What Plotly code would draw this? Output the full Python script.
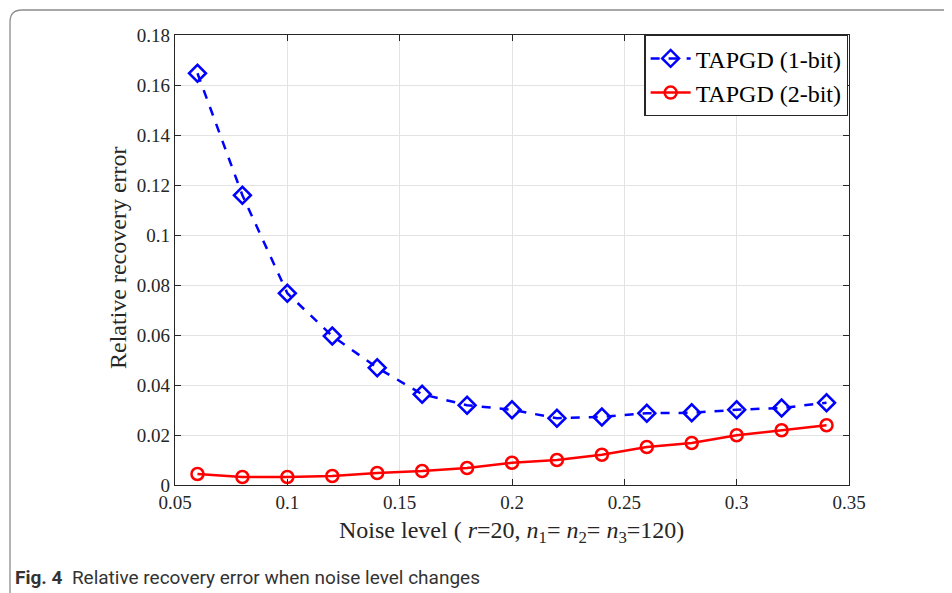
import plotly.graph_objects as go

noise = [0.06, 0.08, 0.10, 0.12, 0.14, 0.16, 0.18, 0.20, 0.22, 0.24, 0.26, 0.28, 0.30, 0.32, 0.34]
err_1bit = [0.1647, 0.1159, 0.0767, 0.0596, 0.0469, 0.0363, 0.0319, 0.0301, 0.0267, 0.0272, 0.0287, 0.0289, 0.0301, 0.0308, 0.0329]
err_2bit = [0.0044, 0.0032, 0.0032, 0.0036, 0.0048, 0.0056, 0.0068, 0.0089, 0.0100, 0.0121, 0.0152, 0.0168, 0.0199, 0.0219, 0.0239]
xticks = [0.05, 0.1, 0.15, 0.2, 0.25, 0.3, 0.35]
xticklabels = ["0.05", "0.1", "0.15", "0.2", "0.25", "0.3", "0.35"]
yticks = [0, 0.02, 0.04, 0.06, 0.08, 0.1, 0.12, 0.14, 0.16, 0.18]
yticklabels = ["0", "0.02", "0.04", "0.06", "0.08", "0.1", "0.12", "0.14", "0.16", "0.18"]

OFF = 8  # default page body margin
W, H = 952 - OFF, 593 - OFF
L, R, T, B = 175 - OFF, 849 - OFF, 35 - OFF, 485 - OFF


def px(x):
    return (x - OFF - L) / (R - L)


def py(y):
    return (B - (y - OFF)) / (B - T)


serif = "Liberation Serif, Times New Roman, serif"
axcol = "#262626"

fig = go.Figure()
fig.add_trace(go.Scatter(
    x=noise, y=err_1bit, name="TAPGD (1-bit)", mode="lines+markers",
    line=dict(color="#0000ff", width=2.5, dash="dash"),
    marker=dict(symbol="diamond-open", size=13, color="#0000ff", line=dict(width=2.5, color="#0000ff")),
))
fig.add_trace(go.Scatter(
    x=noise, y=err_2bit, name="TAPGD (2-bit)", mode="lines+markers",
    line=dict(color="#ff0000", width=2.5),
    marker=dict(symbol="circle-open", size=12, color="#ff0000", line=dict(width=2.5, color="#ff0000")),
))

axis_common = dict(
    showgrid=True, gridcolor="#e3e3e3", gridwidth=1,
    showline=True, linecolor=axcol, linewidth=1.3, mirror="allticks",
    ticks="inside", ticklen=6, tickcolor=axcol,
    tickfont=dict(family=serif, size=19, color=axcol), zeroline=False,
)
fig.update_xaxes(range=[0.05, 0.35], tickvals=xticks, ticktext=xticklabels, **axis_common)
fig.update_yaxes(range=[0, 0.18], tickvals=yticks, ticktext=yticklabels, **axis_common)

fig.add_annotation(
    xref="paper", yref="paper", x=px(118), y=py(258), xanchor="center", yanchor="middle",
    text="Relative recovery error", textangle=-90, showarrow=False,
    font=dict(family=serif, size=24, color=axcol),
)
fig.add_annotation(
    xref="paper", yref="paper", x=px(511), y=py(532), xanchor="center", yanchor="middle",
    text="Noise level ( <i>r</i>=20, <i>n</i><sub>1</sub>= <i>n</i><sub>2</sub>= <i>n</i><sub>3</sub>=120)",
    showarrow=False, font=dict(family=serif, size=24, color=axcol),
)
fig.add_annotation(
    xref="paper", yref="paper", x=px(13), y=py(577), xanchor="left", yanchor="middle",
    text="<b>Fig. 4</b>  Relative recovery error when noise level changes",
    showarrow=False,
    font=dict(family="Roboto, sans-serif", size=19, color="#333333"),
)

# rounded outer frame
r = 12
x0, y0 = 10, 10
x1, y1 = 980, 620
path = (f"M {px(x0)},{py(y1)} L {px(x0)},{py(y0 + r)} "
        f"Q {px(x0)},{py(y0)} {px(x0 + r)},{py(y0)} L {px(x1)},{py(y0)}")
fig.add_shape(type="path", xref="paper", yref="paper", path=path,
              line=dict(color="#8c8c8c", width=1.3), layer="below")

fig.update_layout(
    width=W, height=H,
    margin=dict(l=L, r=W - R, t=T, b=H - B),
    paper_bgcolor="white", plot_bgcolor="white",
    showlegend=True,
    legend=dict(
        x=0.999, y=1.0, xanchor="right", yanchor="top",
        bgcolor="white", bordercolor=axcol, borderwidth=1.3,
        font=dict(family=serif, size=24, color="black"),
        itemwidth=40, tracegroupgap=0,
    ),
)

fig.write_html("out.html")
